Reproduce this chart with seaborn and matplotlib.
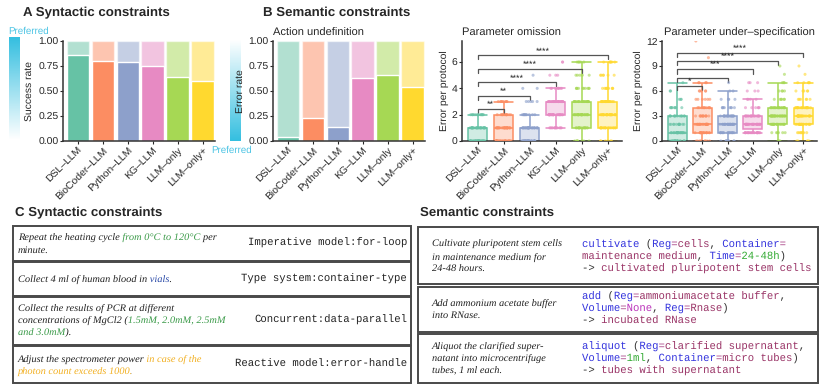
import numpy as np
import pandas as pd
import matplotlib
matplotlib.use("Agg")
import matplotlib.pyplot as plt
import seaborn as sns
from matplotlib.patches import Rectangle
from matplotlib.colors import LinearSegmentedColormap, to_rgba
from matplotlib.font_manager import FontProperties, findfont, get_font
from matplotlib.transforms import Bbox

# ---- data ----
methods = ["DSL–LLM", "BioCoder–LLM", "Python–LLM", "KG–LLM", "LLM–only", "LLM–only+"]

syntactic_success = [0.86, 0.80, 0.79, 0.75, 0.64, 0.60]
action_error = [0.04, 0.23, 0.14, 0.63, 0.66, 0.54]

# number of protocols with 0, 1, 2, ... errors, per method
omission_levels = [0, 1, 2, 3, 4, 5, 6]
omission_counts = [
    [35, 25, 12, 0, 0, 0, 0],
    [30, 25, 12, 8, 0, 0, 0],
    [32, 25, 10, 5, 2, 1, 0],
    [0, 12, 25, 25, 8, 3, 2],
    [8, 15, 25, 20, 10, 5, 5],
    [6, 18, 26, 20, 10, 6, 6],
]
underspec_levels = [0, 1, 2, 3, 4, 5, 6, 7, 8, 9, 10, 12]
underspec_counts = [
    [22, 20, 12, 12, 8, 3, 2, 1, 0, 0, 0, 0],
    [8, 15, 20, 12, 10, 6, 5, 4, 0, 0, 1, 1],
    [10, 15, 22, 18, 8, 4, 2, 1, 0, 0, 0, 0],
    [0, 20, 25, 18, 6, 4, 3, 3, 0, 0, 0, 0],
    [3, 6, 18, 25, 18, 6, 4, 3, 1, 1, 0, 0],
    [5, 8, 18, 22, 18, 6, 5, 5, 1, 1, 0, 0],
]

# significance brackets: (target method index, height, label), all against DSL-LLM
omission_sig = [(1, 2.45, "**"), (2, 3.45, "**"), (3, 4.45, "****"), (4, 5.5, "****"), (5, 6.5, "****")]
underspec_sig = [(1, 6.6, "*"), (2, 7.6, ""), (3, 8.6, "***"), (4, 9.6, "****"), (5, 10.6, "****")]

palette = sns.color_palette("Set2", 6)

W, H = 830, 386
sns.set_style("ticks")
plt.rcParams["font.family"] = ["Liberation Sans", "DejaVu Sans"]
plt.rcParams["axes.edgecolor"] = "#333333"
plt.rcParams["axes.linewidth"] = 1.1
plt.rcParams["text.hinting"] = "no_hinting"  # so glyph advances match what is drawn

fig = plt.figure(figsize=(W / 100, H / 100), dpi=100)


def px_axes(x0, y0, x1, y1):
    return fig.add_axes([x0 / W, 1 - y1 / H, (x1 - x0) / W, (y1 - y0) / H])


def style_axes(ax, ylabel):
    sns.despine(ax=ax)
    ax.set_xlabel("")
    ax.set_ylabel(ylabel, fontsize=7.5, labelpad=2)
    ax.tick_params(labelsize=7.5, length=2.5, width=0.8, pad=0.8)
    ax.set_xticks(range(6))
    ax.set_xticklabels(methods, rotation=45, ha="right", rotation_mode="anchor")


def rate_panel(ax, values, ylabel):
    df = pd.DataFrame({"method": methods, "rate": values, "full": [1.0] * 6})
    sns.barplot(df, x="method", y="full", hue="method", palette=palette, saturation=1,
                alpha=0.5, width=0.9, legend=False, ax=ax)
    sns.barplot(df, x="method", y="rate", hue="method", palette=palette, saturation=1,
                width=0.9, legend=False, ax=ax)
    ax.set_ylim(0, 1)
    ax.set_xlim(-0.6, 5.5)
    ax.set_yticks([0, 0.25, 0.5, 0.75, 1.0])
    ax.set_yticklabels(["0.00", "0.25", "0.50", "0.75", "1.00"])
    style_axes(ax, ylabel)


def box_panel(ax, levels, counts, sig, ylim, yticks, tick_h, ylabel):
    rows = []
    for m, cnt in zip(methods, counts):
        for v in np.repeat(levels, cnt):
            rows.append((m, v))
    df = pd.DataFrame(rows, columns=["method", "err"])
    sns.boxplot(df, x="method", y="err", hue="method", order=methods, hue_order=methods,
                palette=palette, saturation=1, width=0.75, showfliers=False,
                legend=False, ax=ax)
    conts = [c for c in ax.containers if hasattr(c, "boxes")]
    for cont, col in zip(conts, palette):
        for b in cont.boxes:
            b.set_facecolor(to_rgba(col, 0.3))
            b.set_edgecolor(col)
            b.set_linewidth(1.1)
            xs = b.get_path().vertices[:, 0]
            for cap in cont.caps:
                cap.set_xdata([xs.min(), xs.max()])
        for ln in list(cont.whiskers) + list(cont.caps) + list(cont.medians):
            ln.set_color(col)
            ln.set_linewidth(1.1)
    sns.stripplot(df, x="method", y="err", hue="method", order=methods, hue_order=methods,
                  palette=palette, size=2.2, alpha=0.6, jitter=0.3, legend=False, ax=ax)
    for j, h, lab in sig:
        ax.plot([0, 0, j, j], [h - tick_h, h, h, h - tick_h], color="#555555", lw=0.9)
        if lab:
            ax.text(j / 2, h, lab, ha="center", va="bottom", fontsize=6.5)
    ax.set_ylim(*ylim)
    ax.set_yticks(yticks)
    ax.set_xlim(-0.6, 5.55)
    style_axes(ax, ylabel)


# ---- top row ----
axA = px_axes(63, 41, 215, 141)
rate_panel(axA, syntactic_success, "Success rate")

axB = px_axes(273, 41, 425, 141)
rate_panel(axB, action_error, "Error rate")
axB.set_title("Action undefinition", fontsize=8, loc="left", pad=4)

axO = px_axes(462, 41, 622, 141)
box_panel(axO, omission_levels, omission_counts, omission_sig, (0, 7.6), [0, 2, 4, 6], 0.3,
          "Error per protocol")
axO.set_title("Parameter omission", fontsize=8, loc="left", pad=4)

axU = px_axes(662, 41, 817, 141)
box_panel(axU, underspec_levels, underspec_counts, underspec_sig, (0, 12), [0, 3, 6, 9, 12], 0.5,
          "Error per protocol")
axU.set_title("Parameter under–specification", fontsize=8, loc="center", pad=4)

# preferred-direction gradients (drawn below the axes labels)
cyan = "#35bfe0"
cmap = LinearSegmentedColormap.from_list("pref", ["white", cyan])
g1 = px_axes(9, 37, 20, 140)
g1.imshow(np.linspace(1, 0, 100)[:, None], cmap=cmap, aspect="auto")
g1.axis("off")
g1.set_zorder(-1)
g2 = px_axes(230, 40, 241, 141)
g2.imshow(np.linspace(0, 1, 100)[:, None], cmap=cmap, aspect="auto")
g2.axis("off")
g2.set_zorder(-1)
fig.text(8 / W, 1 - 31 / H, "Preferred", color="#4cc4e4", fontsize=7, va="center", ha="left")
fig.text(211 / W, 1 - 150 / H, "Preferred", color="#4cc4e4", fontsize=7, va="center", ha="left")

title_kw = dict(fontsize=9.5, fontweight="bold", va="center", ha="left")
fig.text(23 / W, 1 - 13 / H, "A Syntactic constraints", **title_kw)
fig.text(263 / W, 1 - 13 / H, "B Semantic constraints", **title_kw)
fig.text(15 / W, 1 - 213 / H, "C Syntactic constraints", **title_kw)
fig.text(420 / W, 1 - 213 / H, "Semantic constraints", **title_kw)

# ---- bottom row: example boxes ----
serif = dict(family="Liberation Serif", style="italic", fontsize=7.5)
mono = dict(family="Liberation Mono", fontsize=7.7)


def width_px(s, kw):
    prop = FontProperties(family=kw["family"], style=kw.get("style", "normal"), size=kw["fontsize"])
    font = get_font(findfont(prop))
    font.set_size(kw["fontsize"], 100)
    total = 0.0
    for ch in s:
        g = font.load_char(ord(ch))
        total += g.linearHoriAdvance / 65536
    return total


def rich_line(x, y, segments, kw):
    # the whole line is one string; each colour is a copy clipped to its stretch
    full = "".join(s for s, _ in segments)
    space = width_px(" ", kw)
    edges = [x - 10]
    done = ""
    for i, (s, _) in enumerate(segments[:-1]):
        done += s
        e = x + width_px(done, kw)
        if done.endswith(" "):
            e -= space / 2
        elif segments[i + 1][0].startswith(" "):
            e += space / 2
        else:
            e += 0.4
        edges.append(e)
    edges.append(x + width_px(full, kw) + 10)
    for (s, c), e0, e1 in zip(segments, edges[:-1], edges[1:]):
        t = fig.text(x / W, 1 - y / H, full, color=c, va="center", ha="left", **kw)
        if len(segments) > 1:
            t.set_clip_box(Bbox.from_extents(e0, 0, e1, H))
            t.set_clip_on(True)


def frame(x0, y0, x1, y1):
    fig.add_artist(Rectangle((x0 / W, 1 - y1 / H), (x1 - x0) / W, (y1 - y0) / H,
                             transform=fig.transFigure, fill=False, ec="#4a4a4a", lw=1.4))


K = "#222222"
GRN, BLU, ORG = "#3a9a48", "#2a4aa8", "#f2b022"

c_boxes = [(226, 261), (262, 296), (297, 345), (346, 383)]
for y0, y1 in c_boxes:
    frame(13, y0, 411, y1)

rich_line(18, 237, [("Repeat the heating cycle ", K), ("from 0°C to 120°C", GRN), (" per", K)], serif)
rich_line(18, 250, [("minute.", K)], serif)
rich_line(18, 279, [("Collect 4 ml of human blood in ", K), ("vials", BLU), (".", K)], serif)
rich_line(18, 308, [("Collect the results of PCR at different", K)], serif)
rich_line(18, 320, [("concentrations of MgCl2 (", K), ("1.5mM, 2.0mM, 2.5mM", GRN)], serif)
rich_line(18, 333, [("and 3.0mM", GRN), (").", K)], serif)
rich_line(18, 359, [("Adjust the spectrometer power ", K), ("in case of the", ORG)], serif)
rich_line(18, 372, [("photon count exceeds 1000", ORG), (".", K)], serif)

c_code = [(243, "Imperative model:for-loop"), (279, "Type system:container-type"),
          (320, "Concurrent:data-parallel"), (364, "Reactive model:error-handle")]
for y, s in c_code:
    fig.text(407 / W, 1 - y / H, s, color=K, va="center", ha="right", **mono)

s_boxes = [(227, 284), (287, 332), (334, 383)]
for y0, y1 in s_boxes:
    frame(418, y0, 818, y1)

FB, MG, EQ, GR, PU, DK = "#3333dd", "#993366", "#aa4488", "#33aa33", "#bb33bb", "#333333"

rich_line(432, 244, [("Cultivate pluripotent stem cells", K)], serif)
rich_line(432, 257, [("in maintenance medium for", K)], serif)
rich_line(432, 269, [("24-48 hours.", K)], serif)
rich_line(432, 303, [("Add ammonium acetate buffer", K)], serif)
rich_line(432, 315, [("into RNase.", K)], serif)
rich_line(432, 346, [("Aliquot the clarified super-", K)], serif)
rich_line(432, 358, [("natant into microcentrifuge", K)], serif)
rich_line(432, 371, [("tubes, 1 ml each.", K)], serif)

cx = 582
rich_line(cx, 245, [("cultivate", FB), (" (", DK), ("Reg", FB), ("=", EQ), ("cells", MG), (", ", DK),
                    ("Container", FB), ("=", EQ)], mono)
rich_line(cx, 257, [("maintenance medium", MG), (", ", DK), ("Time", FB), ("=", EQ), ("24-48h", GR),
                    (")", DK)], mono)
rich_line(cx, 269, [("-> ", DK), ("cultivated pluripotent stem cells", MG)], mono)
rich_line(cx, 297, [("add", FB), (" (", DK), ("Reg", FB), ("=", EQ), ("ammoniumacetate buffer", MG),
                    (",", DK)], mono)
rich_line(cx, 309, [("Volume", FB), ("=", EQ), ("None", PU), (", ", DK), ("Reg", FB), ("=", EQ),
                    ("Rnase", MG), (")", DK)], mono)
rich_line(cx, 321, [("-> ", DK), ("incubated RNase", MG)], mono)
rich_line(cx, 347, [("aliquot", FB), (" (", DK), ("Reg", FB), ("=", EQ), ("clarified supernatant", MG),
                    (",", DK)], mono)
rich_line(cx, 359, [("Volume", FB), ("=", EQ), ("1ml", GR), (", ", DK), ("Container", FB), ("=", EQ),
                    ("micro tubes", MG), (")", DK)], mono)
rich_line(cx, 371, [("-> ", DK), ("tubes with supernatant", MG)], mono)

fig.savefig("out.png", dpi=100)
